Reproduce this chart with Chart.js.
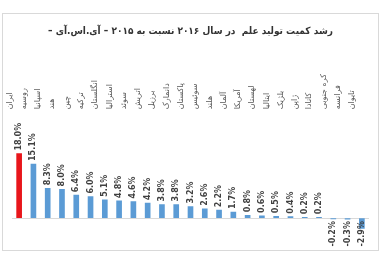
<!DOCTYPE html>
<html>
<head>
<meta charset="utf-8">
<script src="https://cdn.jsdelivr.net/npm/chart.js@4.4.1/dist/chart.umd.min.js"></script>
<style>
  html, body { margin: 0; padding: 0; background: #fff; }
  #wrap { position: relative; width: 380px; height: 263px; }
  #frame { position: absolute; left: 2px; top: 13px; width: 375px; height: 236px; border: 1px solid #d9d9d9; }
  canvas { position: absolute; left: 0; top: 0; }
</style>
</head>
<body>
<div id="wrap">
  <div id="frame"></div>
  <canvas id="chart" width="380" height="263"></canvas>
</div>
<script>
// RLM marks keep the dashes on the right side in an ltr canvas
const titleText = "\u200Fرشد کمیت تولید علم  در سال ۲۰۱۶ نسبت به ۲۰۱۵ – آی.اس.آی –\u200F"

const countries = ["ایران", "روسیه", "اسپانیا", "هند", "چین", "ترکیه", "انگلستان", "استرالیا",
    "سوئد", "اتریش", "برزیل", "دانمارک", "پاکستان", "سوئیس", "هلند", "آلمان", "آمریکا",
    "لهستان", "ایتالیا", "بلژیک", "ژاپن", "کانادا", "کره جنوبی", "فرانسه", "تایوان"]

const growth = [18.0, 15.1, 8.3, 8.0, 6.4, 6.0, 5.1, 4.8, 4.6, 4.2, 3.8, 3.8, 3.2, 2.6, 2.2,
    1.7, 0.8, 0.6, 0.5, 0.4, 0.2, 0.2, -0.2, -0.3, -2.9]

const highlight = "ایران"

const barColors = countries.map(c => c == highlight ? "#e8161b" : "#5b9bd5")

// labels drawn vertically next to each bar end
const valueLabels = {
    id: "valueLabels",
    afterDatasetsDraw(chart){
        const ctx = chart.ctx
        const meta = chart.getDatasetMeta(0)
        const zero = chart.scales.y.getPixelForValue(0)
        ctx.save()
        ctx.font = "bold 8px 'DejaVu Sans'"
        ctx.fillStyle = "#404040"
        ctx.textBaseline = "middle"
        for(let i = 0; i < meta.data.length; i++){
            const bar = meta.data[i]
            const v = growth[i]
            ctx.save()
            if(v >= 0){
                ctx.translate(bar.x, bar.y - 3)
                ctx.rotate(-Math.PI / 2)
                ctx.textAlign = "left"
            } else {
                ctx.translate(bar.x, zero + 3)
                ctx.rotate(-Math.PI / 2)
                ctx.textAlign = "right"
            }
            ctx.fillText(v.toFixed(1) + "%", 0, 0)
            ctx.restore()
        }
        ctx.restore()
    }
}

const canvas = document.querySelector("#chart")
const chart = new Chart(canvas, {
    type: "bar",
    data: {
        labels: countries,
        datasets: [{
            data: growth,
            backgroundColor: barColors,
            barThickness: 5
        }]
    },
    plugins: [valueLabels],
    options: {
        responsive: false,
        animation: false,
        layout: { padding: { left: 12, right: 11, top: 6, bottom: 27 } },
        plugins: {
            legend: { display: false },
            tooltip: { enabled: false },
            title: {
                display: true,
                text: titleText,
                color: "#333333",
                font: { family: "DejaVu Sans Condensed", size: 10, weight: "bold" },
                padding: { top: 19, bottom: 33 }
            }
        },
        scales: {
            x: {
                position: "top",
                grid: { display: false },
                border: { display: false },
                ticks: {
                    minRotation: 90,
                    maxRotation: 90,
                    autoSkip: false,
                    padding: 4,
                    color: "#595959",
                    font: { family: "DejaVu Sans", size: 8 }
                }
            },
            y: {
                min: -5,
                max: 27,
                ticks: { display: false, stepSize: 1 },
                border: { display: false },
                grid: {
                    drawTicks: false,
                    color: ctx => ctx.tick.value == 0 ? "#d9d9d9" : "rgba(0,0,0,0)"
                }
            }
        }
    }
})
</script>
</body>
</html>
